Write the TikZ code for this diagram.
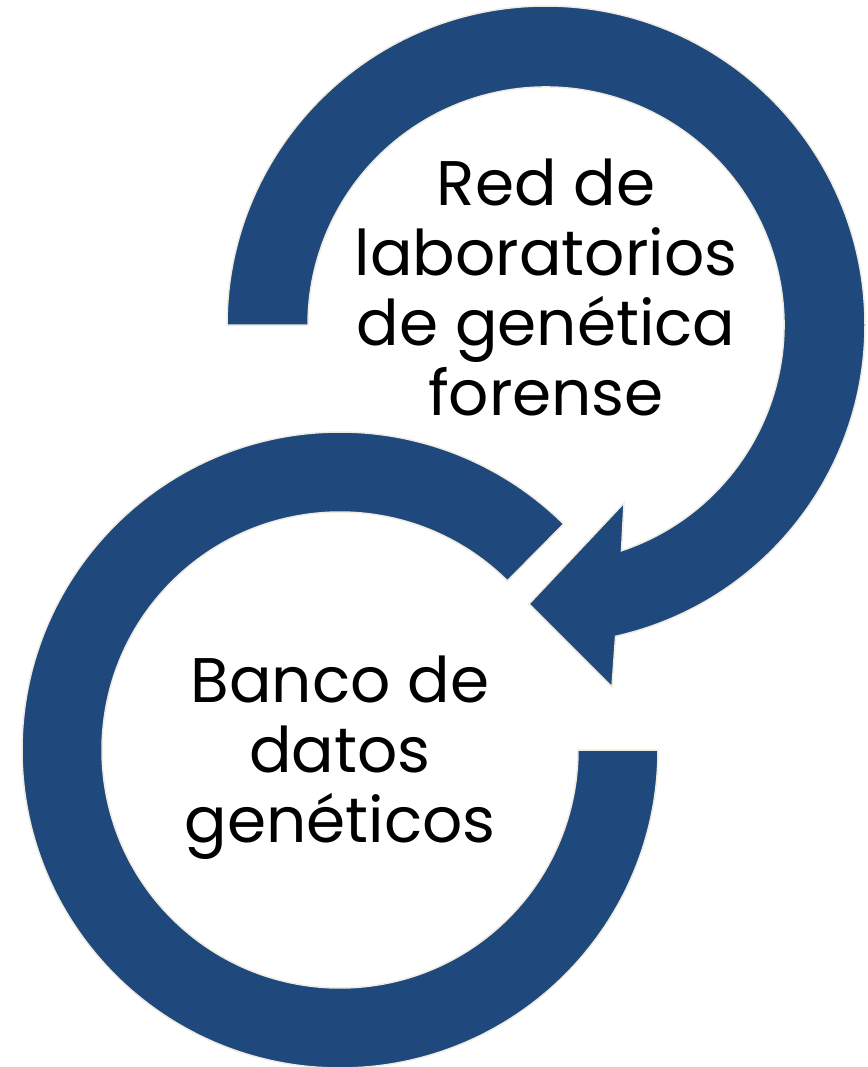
\documentclass[tikz,border=0pt]{standalone}
\usepackage{fontspec}
\setmainfont{Poppins}
\usepackage{xcolor}
\usetikzlibrary{calc,positioning}
\definecolor{ringblue}{HTML}{1F497D}
\definecolor{ringedge}{HTML}{EEECE1}
\tikzset{
  ring/.style = {
      fill=ringblue,
      draw=ringedge,
      line width=0.75pt,
      line join=miter
  },
  ringtext/.style = {
      font=\fontsize{31.5}{35}\selectfont,
      align=center,
      inner sep=0pt,
      text=black
  }
}

\begin{document}
\begin{tikzpicture}[x=0.5pt, y=-0.5pt]
    \useasboundingbox (0,0) rectangle (868,1067);
    % Centres
    \coordinate (c1) at (546,325);
    \coordinate (c2) at (340,750);
    % Arrow head
    \coordinate (tip) at (529,604);
    \coordinate (wing1) at (624,503);
    \coordinate (wing2) at (612,687);
    % Lower ring
    \path[ring] ($(c2)+(0:318)$) arc[start angle=0, end angle=314.7, radius=318]
        -- ($(c2)+(314.7:238)$) arc[start angle=314.7, end angle=0, radius=238] -- cycle;
    % Upper ring
    \path[ring] ($(c1)+(180:319)$) arc[start angle=180, end angle=437.4, radius=319]
        -- (wing2) -- (tip) -- (wing1)
        -- ($(c1)+(431.5:238)$) arc[start angle=431.5, end angle=180, radius=238] -- cycle;
    % Labels
    \node[ringtext] (lab1) at (546,287) {Red de\\laboratorios\\de genética\\forense};
    \node[ringtext] (lab2) at (340,758) {Banco de\\datos\\genéticos};
\end{tikzpicture}
\end{document}
